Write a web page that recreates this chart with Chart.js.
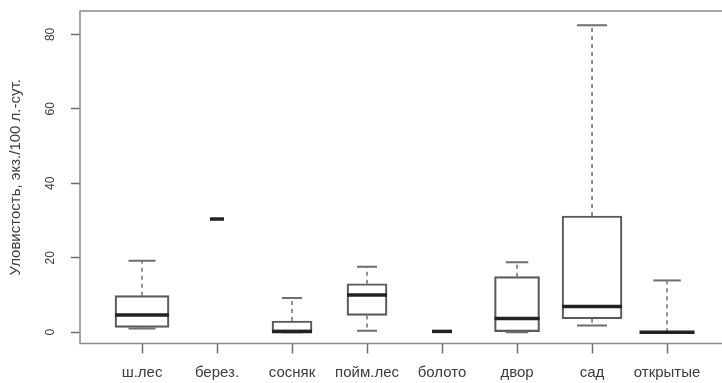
<!DOCTYPE html>
<html lang="ru">
<head>
    <meta charset="UTF-8">
    <title>Уловистость</title>
    <style>
        * { margin: 0; padding: 0; box-sizing: border-box; }
        body { background: #fff; width: 722px; height: 383px; overflow: hidden; }
        canvas { display: block; }
    </style>
</head>
<body>
    <canvas id="chart" width="722" height="383"></canvas>

    <script src="https://cdn.jsdelivr.net/npm/chart.js@4.4.0/dist/chart.umd.min.js"></script>
    <script>
        // Data
        const categories = ['ш.лес', 'берез.', 'сосняк', 'пойм.лес', 'болото', 'двор', 'сад', 'открытые'];
        const whiskerLow  = [1.0, 30.4, 0.0, 0.4, 0.2, 0.0, 1.8, 0.0];
        const q1          = [1.3, 30.4, 0.0, 4.5, 0.2, 0.0, 3.6, 0.0];
        const median      = [4.6, 30.4, 0.2, 10.0, 0.2, 3.7, 6.9, 0.0];
        const q3          = [9.8, 30.4, 3.0, 13.0, 0.2, 14.9, 31.2, 0.0];
        const whiskerHigh = [19.2, 30.4, 9.2, 17.6, 0.2, 18.8, 82.5, 13.9];
        const yTicks = [0, 20, 40, 60, 80];

        // Styling (box widths in px, as drawn in the picture)
        const boxWidths = [54, 14, 40, 40, 20, 45, 60, 55];
        const lineGrey = '#6e6e6e';
        const textGrey = '#3c3c3c';
        const fontFamily = "'Liberation Sans', Arial, sans-serif";

        // whiskers, caps, medians and the frame
        const boxPlotExtras = {
            id: 'boxPlotExtras',
            afterDatasetsDraw(chart) {
                const ctx = chart.ctx;
                const x = chart.scales.x;
                const y = chart.scales.y;
                const area = chart.chartArea;
                ctx.save();

                categories.forEach((c, i) => {
                    const cx = x.getPixelForValue(i);
                    const w = boxWidths[i];
                    const cap = w / 2;

                    // dashed whiskers
                    ctx.strokeStyle = lineGrey;
                    ctx.lineWidth = 1.5;
                    ctx.setLineDash([4, 4]);
                    ctx.beginPath();
                    if (whiskerHigh[i] > q3[i]) {
                        ctx.moveTo(cx, y.getPixelForValue(q3[i]));
                        ctx.lineTo(cx, y.getPixelForValue(whiskerHigh[i]));
                    }
                    if (whiskerLow[i] < q1[i]) {
                        ctx.moveTo(cx, y.getPixelForValue(q1[i]));
                        ctx.lineTo(cx, y.getPixelForValue(whiskerLow[i]));
                    }
                    ctx.stroke();

                    // caps
                    ctx.setLineDash([]);
                    ctx.lineWidth = 2;
                    ctx.beginPath();
                    if (whiskerHigh[i] > q3[i]) {
                        const yh = y.getPixelForValue(whiskerHigh[i]);
                        ctx.moveTo(cx - cap / 2, yh);
                        ctx.lineTo(cx + cap / 2, yh);
                    }
                    if (whiskerLow[i] < q1[i] || whiskerLow[i] < median[i]) {
                        const yl = y.getPixelForValue(whiskerLow[i]);
                        ctx.moveTo(cx - cap / 2, yl);
                        ctx.lineTo(cx + cap / 2, yl);
                    }
                    ctx.stroke();

                    // median
                    ctx.strokeStyle = '#222';
                    ctx.lineWidth = 3.5;
                    ctx.beginPath();
                    const ym = y.getPixelForValue(median[i]);
                    ctx.moveTo(cx - w / 2, ym);
                    ctx.lineTo(cx + w / 2, ym);
                    ctx.stroke();
                });

                // frame: top, left, bottom (right side runs off the picture)
                ctx.strokeStyle = '#8a8a8a';
                ctx.lineWidth = 1.5;
                ctx.beginPath();
                ctx.moveTo(area.right + 2, area.top);
                ctx.lineTo(area.left, area.top);
                ctx.lineTo(area.left, area.bottom);
                ctx.lineTo(area.right + 2, area.bottom);
                ctx.stroke();

                // rotated y tick labels
                ctx.fillStyle = textGrey;
                ctx.font = '12px ' + fontFamily;
                ctx.textAlign = 'center';
                ctx.textBaseline = 'middle';
                yTicks.forEach(v => {
                    ctx.save();
                    ctx.translate(51, y.getPixelForValue(v));
                    ctx.rotate(-Math.PI / 2);
                    ctx.fillText(String(v), 0, 0);
                    ctx.restore();
                });

                ctx.restore();
            }
        };

        const datasets = categories.map((c, i) => ({
            label: c,
            data: [{ x: i, y: [q1[i], q3[i]] }],
            backgroundColor: 'rgba(255,255,255,0)',
            borderColor: '#5a5a5a',
            borderWidth: 1.5,
            borderSkipped: false,
            grouped: false,
            barPercentage: 1,
            categoryPercentage: 1,
            maxBarThickness: boxWidths[i]
        }));

        new Chart(document.getElementById('chart'), {
            type: 'bar',
            data: { datasets },
            options: {
                responsive: false,
                animation: false,
                devicePixelRatio: 1,
                layout: { padding: { top: 11, right: 0, left: 0, bottom: 0 } },
                plugins: {
                    legend: { display: false },
                    tooltip: { enabled: false }
                },
                scales: {
                    x: {
                        type: 'linear',
                        min: -0.827,
                        max: 7.733,
                        offset: false,
                        afterBuildTicks: axis => {
                            axis.ticks = categories.map((c, i) => ({ value: i }));
                        },
                        afterFit: axis => { axis.height = 39.5; },
                        ticks: {
                            autoSkip: false,
                            maxRotation: 0,
                            padding: 10,
                            color: textGrey,
                            font: { family: fontFamily, size: 15 },
                            callback: v => categories[v]
                        },
                        grid: {
                            offset: false,
                            drawOnChartArea: false,
                            tickLength: 10,
                            tickColor: lineGrey,
                            tickWidth: 1.5
                        },
                        border: { display: false }
                    },
                    y: {
                        min: -3.05,
                        max: 86.3,
                        afterBuildTicks: axis => {
                            axis.ticks = yTicks.map(v => ({ value: v }));
                        },
                        afterFit: axis => { axis.width = 80; },
                        ticks: { display: false },
                        grid: {
                            drawOnChartArea: false,
                            tickLength: 9,
                            tickColor: lineGrey,
                            tickWidth: 1.5
                        },
                        border: { display: false },
                        title: {
                            display: true,
                            text: 'Уловистость, экз./100 л.-сут.',
                            color: textGrey,
                            font: { family: fontFamily, size: 15 },
                            padding: { top: 7, bottom: 0 }
                        }
                    }
                }
            },
            plugins: [boxPlotExtras]
        });
    </script>
</body>
</html>
